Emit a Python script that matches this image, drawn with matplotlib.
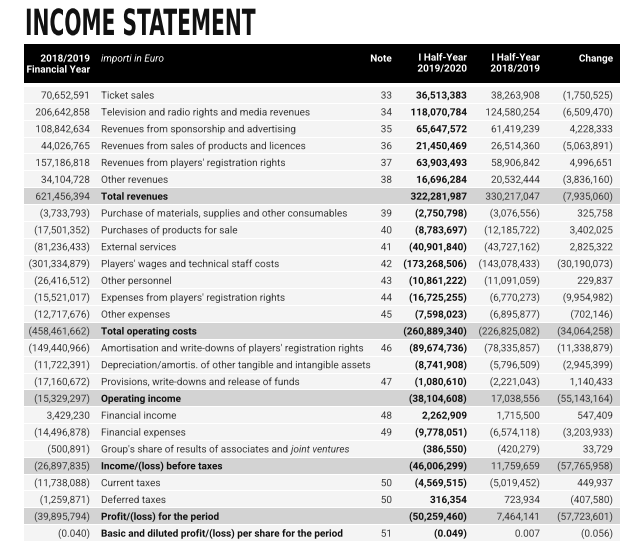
import matplotlib
matplotlib.use("Agg")
import matplotlib.pyplot as plt
from matplotlib.patches import Rectangle
from matplotlib.patheffects import AbstractPathEffect, Normal
from matplotlib.transforms import Affine2D

# ---------------- data ----------------
descriptions = [
    "Ticket sales",
    "Television and radio rights and media revenues",
    "Revenues from sponsorship and advertising",
    "Revenues from sales of products and licences",
    "Revenues from players' registration rights",
    "Other revenues",
    "Total revenues",
    "Purchase of materials, supplies and other consumables",
    "Purchases of products for sale",
    "External services",
    "Players' wages and technical staff costs",
    "Other personnel",
    "Expenses from players' registration rights",
    "Other expenses",
    "Total operating costs",
    "Amortisation and write-downs of players' registration rights",
    "Depreciation/amortis. of other tangible and intangible assets",
    "Provisions, write-downs and release of funds",
    "Operating income",
    "Financial income",
    "Financial expenses",
    "Group's share of results of associates and ",
    "Income/(loss) before taxes",
    "Current taxes",
    "Deferred taxes",
    "Profit/(loss) for the period",
    "Basic and diluted profit/(loss) per share for the period",
]
notes = ["33", "34", "35", "36", "37", "38", "", "39", "40", "41", "42", "43", "44",
         "45", "", "46", "", "47", "", "48", "49", "", "", "50", "50", "", "51"]
fy_2018_2019 = [70652591, 206642858, 108842634, 44026765, 157186818, 34104728,
                621456394, -3733793, -17501352, -81236433, -301334879, -26416512,
                -15521017, -12717676, -458461662, -149440966, -11722391, -17160672,
                -15329297, 3429230, -14496878, -500891, -26897835, -11738088,
                -1259871, -39895794, -0.040]
h1_2019_2020 = [36513383, 118070784, 65647572, 21450469, 63903493, 16696284,
                322281987, -2750798, -8783697, -40901840, -173268506, -10861222,
                -16725255, -7598023, -260889340, -89674736, -8741908, -1080610,
                -38104608, 2262909, -9778051, -386550, -46006299, -4569515,
                316354, -50259460, -0.049]
h1_2018_2019 = [38263908, 124580254, 61419239, 26514360, 58906842, 20532444,
                330217047, -3076556, -12185722, -43727162, -143078433, -11091059,
                -6770273, -6895877, -226825082, -78335857, -5796509, -2221043,
                17038556, 1715500, -6574118, -420279, 11759659, -5019452,
                723934, 7464141, 0.007]
change = [-1750525, -6509470, 4228333, -5063891, 4996651, -3836160, -7935060,
          325758, 3402025, 2825322, -30190073, 229837, -9954982, -702146,
          -34064258, -11338879, -2945399, 1140433, -55143164, 547409, -3203933,
          33729, -57765958, 449937, -407580, -57723601, -0.056]
total_rows = [6, 14, 18, 22, 25]
bold_desc_rows = [6, 14, 18, 22, 25, 26]
italic_suffix = {21: "joint ventures"}

title = "INCOME STATEMENT"
hdr_fy = ["2018/2019", "Financial Year"]
hdr_unit = "importi in Euro"
hdr_note = "Note"
hdr_cur = ["I Half-Year", "2019/2020"]
hdr_prev = ["I Half-Year", "2018/2019"]
hdr_change = "Change"


def fmt(v):
    if abs(v) < 1:
        s = f"{abs(v):.3f}"
    else:
        s = f"{abs(v):,.0f}"
    return f"({s})" if v < 0 else s


class Squash(AbstractPathEffect):
    """Horizontally condense glyphs around a display-space anchor x0."""

    def __init__(self, sx, x0):
        super().__init__()
        self.sx = sx
        self.x0 = x0

    def draw_path(self, renderer, gc, tpath, affine, rgbFace=None):
        extra = Affine2D().translate(-self.x0, 0).scale(self.sx, 1).translate(self.x0, 0)
        renderer.draw_path(gc, tpath, affine + extra, rgbFace)


# draw text as paths so every baseline sits exactly where it is placed
plt.rcParams["path.effects"] = [Normal()]

# ---------------- figure ----------------
W, H = 630, 555
fig = plt.figure(figsize=(W / 100, H / 100), dpi=100)
ax = fig.add_axes([0, 0, 1, 1])
ax.set_xlim(0, W)
ax.set_ylim(H, 0)
ax.axis("off")

FONT = "Roboto"
FS = 7.2
C_TXT = "#3a3a3a"
BL = 3.6  # baseline offset from row centre (px)

# title (condensed display face)
ax.text(25, 35, title, fontsize=26, fontweight="heavy", family="DejaVu Sans",
        va="baseline", ha="left", color="#111111",
        path_effects=[Squash(0.56, 25)])

left, right = 24, 620
# header band
ax.add_patch(Rectangle((left, 44), right - left, 39, color="black", lw=0))
hy1, hy2 = 58 + BL, 69 + BL
ax.text(90, hy1, hdr_fy[0], ha="right", va="baseline", fontsize=FS, family=FONT,
        fontweight="bold", color="white")
ax.text(90, hy2, hdr_fy[1], ha="right", va="baseline", fontsize=FS, family=FONT,
        fontweight="bold", color="white")
ax.text(101, hy1, hdr_unit, ha="left", va="baseline", fontsize=FS, family=FONT,
        style="italic", color="white")
ax.text(392, hy1, hdr_note, ha="right", va="baseline", fontsize=FS, family=FONT,
        fontweight="bold", color="white")
for xr, lines in [(467, hdr_cur), (540, hdr_prev)]:
    ax.text(xr, hy1 - 1, lines[0], ha="right", va="baseline", fontsize=FS,
            family=FONT, fontweight="bold", color="white")
    ax.text(xr, hy2 - 1, lines[1], ha="right", va="baseline", fontsize=FS,
            family=FONT, fontweight="bold", color="white")
ax.text(613, hy1, hdr_change, ha="right", va="baseline", fontsize=FS, family=FONT,
        fontweight="bold", color="white")

# rows
y0, dy = 95, 16.85
fig.canvas.draw()
renderer = fig.canvas.get_renderer()
for i, desc in enumerate(descriptions):
    yc = y0 + i * dy
    yb = yc + BL
    bg = "#d3d3d3" if i in total_rows else "#f4f4f4"
    ax.add_patch(Rectangle((left, yc - dy / 2 + 0.5), right - left, dy - 1.0,
                           color=bg, lw=0))
    bold_desc = i in bold_desc_rows
    ax.text(90, yb, fmt(fy_2018_2019[i]), ha="right", va="baseline", fontsize=FS,
            family=FONT, color=C_TXT)
    t = ax.text(101, yb, desc, ha="left", va="baseline", fontsize=FS, family=FONT,
                fontweight="bold" if bold_desc else "normal",
                color="#111111" if bold_desc else C_TXT)
    if i in italic_suffix:
        bb = t.get_window_extent(renderer=renderer)
        x_end = ax.transData.inverted().transform((bb.x1, bb.y0))[0]
        ax.text(x_end, yb, italic_suffix[i], ha="left", va="baseline", fontsize=FS,
                family=FONT, style="italic", color=C_TXT)
    ax.text(392, yb, notes[i], ha="right", va="baseline", fontsize=FS, family=FONT,
            color=C_TXT)
    ax.text(467, yb, fmt(h1_2019_2020[i]), ha="right", va="baseline", fontsize=FS,
            family=FONT, fontweight="bold", color="#111111")
    ax.text(540, yb, fmt(h1_2018_2019[i]), ha="right", va="baseline", fontsize=FS,
            family=FONT, color=C_TXT)
    ax.text(613, yb, fmt(change[i]), ha="right", va="baseline", fontsize=FS,
            family=FONT, color=C_TXT)

fig.savefig("out.png", dpi=100, facecolor="white")
